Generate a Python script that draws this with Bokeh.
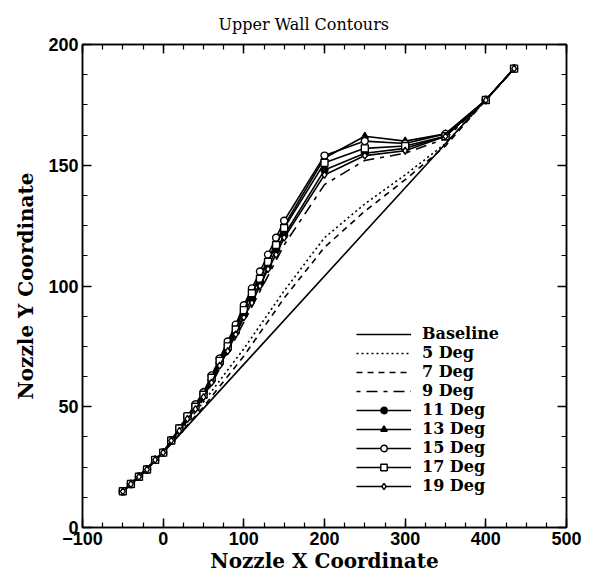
from bokeh.plotting import figure
from bokeh.models import (Legend, LegendItem, LinearAxis, Range1d,
                          SingleIntervalTicker, CustomJSTickFormatter)
from bokeh.embed import file_html
from bokeh.resources import INLINE

# ---------------- data ----------------
x_base = [-50, 0, 435]
y_base = [15, 31, 190]

x_plain = [-50, 0, 50, 100, 150, 200, 250, 300, 350, 400, 435]
y_5deg = [15, 31, 52, 74, 98, 120, 134, 146, 159, 177, 190]
y_7deg = [15, 31, 50, 71, 95, 116, 131, 144, 158, 177, 190]
y_9deg = [15, 31, 53, 85, 117, 142, 152, 155, 161, 177, 190]

x_mark = [-50, -40, -30, -20, -10, 0, 10, 20, 30, 40, 50, 60, 70, 80, 90,
          100, 110, 120, 130, 140, 150, 200, 250, 300, 350, 400, 435]
y_11deg = [15, 18, 21, 24, 28, 31, 36, 41, 46, 50, 55, 61, 68, 74, 81,
           88, 95, 101, 108, 115, 121, 148, 155, 157, 162, 177, 190]
y_13deg = [15, 18, 21, 24, 28, 31, 36, 41, 46, 51, 56, 62, 69, 76, 83,
           91, 98, 104, 111, 118, 125, 153, 162, 160, 163, 177, 190]
y_15deg = [15, 18, 21, 24, 28, 31, 36, 41, 46, 51, 56, 63, 70, 77, 84,
           92, 99, 106, 113, 120, 127, 154, 160, 159, 163, 177, 190]
y_17deg = [15, 18, 21, 24, 28, 31, 36, 41, 46, 50, 55, 62, 69, 75, 82,
           90, 97, 103, 110, 117, 124, 151, 157, 158, 162, 177, 190]
y_19deg = [15, 18, 21, 24, 28, 31, 36, 40, 45, 49, 54, 60, 67, 73, 80,
           87, 93, 100, 107, 113, 120, 146, 154, 156, 162, 177, 190]

labels = ["Baseline", "5 Deg", "7 Deg", "9 Deg", "11 Deg",
          "13 Deg", "15 Deg", "17 Deg", "19 Deg"]

x_ticks_interval = 100
y_ticks_interval = 50

# ---------------- figure ----------------
SERIF = "DejaVu Serif"
p = figure(frame_width=484, frame_height=483,
           min_border_left=82, min_border_right=27,
           min_border_top=44, min_border_bottom=40,
           x_range=Range1d(-100, 500), y_range=Range1d(0, 200),
           output_backend="svg", toolbar_location=None,
           title="Upper Wall Contours")
p.title.align = "left"
p.title.offset = 136
p.title.standoff = 21
p.title.text_font = SERIF
p.title.text_font_size = "16px"
p.title.text_font_style = "normal"
p.title.text_color = "black"
p.grid.visible = False
p.outline_line_color = "black"
p.outline_line_width = 1.5
p.background_fill_color = "white"
p.border_fill_color = "white"

def style_axis(ax, interval, show_labels, label_standoff=1):
    ax.ticker = SingleIntervalTicker(interval=interval, num_minor_ticks=4)
    ax.axis_line_color = "black"
    ax.axis_line_width = 1.5
    ax.major_tick_line_color = "black"
    ax.minor_tick_line_color = "black"
    ax.major_tick_line_width = 1.5
    ax.minor_tick_line_width = 1.2
    ax.major_tick_in = 9
    ax.major_tick_out = 0
    ax.minor_tick_in = 5
    ax.minor_tick_out = 0
    if show_labels:
        ax.major_label_text_font = "Liberation Sans"
        ax.major_label_text_font_style = "bold"
        ax.major_label_text_font_size = "18px"
        ax.major_label_text_color = "black"
        ax.major_label_standoff = 4
        ax.axis_label_text_font = SERIF
        ax.axis_label_text_font_size = "20px"
        ax.axis_label_text_font_style = "bold"
        ax.axis_label_text_color = "black"
        ax.axis_label_standoff = label_standoff
    else:
        ax.formatter = CustomJSTickFormatter(code="return ''")
        ax.major_label_text_font_size = "1px"
        ax.major_label_standoff = 0

style_axis(p.xaxis[0], x_ticks_interval, True, 1)
style_axis(p.yaxis[0], y_ticks_interval, True, 7)
p.xaxis[0].axis_label = "Nozzle X Coordinate"
p.yaxis[0].axis_label = "Nozzle Y Coordinate"

top_ax = LinearAxis()
style_axis(top_ax, x_ticks_interval, False)
p.add_layout(top_ax, "above")
right_ax = LinearAxis()
style_axis(right_ax, y_ticks_interval, False)
p.add_layout(right_ax, "right")

# ---------------- series ----------------
LW = 1.6
items = []
r = p.line(x_base, y_base, line_color="black", line_width=LW)
items.append(LegendItem(label=labels[0], renderers=[r]))
for lab, ys, dash in [(labels[1], y_5deg, "2 3"),
                      (labels[2], y_7deg, "6 5"),
                      (labels[3], y_9deg, "4 6 11 6")]:
    r = p.line(x_plain, ys, line_color="black", line_width=LW, line_dash=dash)
    items.append(LegendItem(label=lab, renderers=[r]))

marker_specs = [(labels[4], y_11deg, "circle", "black"),
                (labels[5], y_13deg, "triangle", "black"),
                (labels[6], y_15deg, "circle", "white"),
                (labels[7], y_17deg, "square", "white"),
                (labels[8], y_19deg, "diamond", "white")]
for lab, ys, mk, fill in marker_specs:
    rl = p.line(x_mark, ys, line_color="black", line_width=LW)
    rs = p.scatter(x_mark, ys, marker=mk, size=7, line_color="black",
                   line_width=1.4, fill_color=fill)
    items.append(LegendItem(label=lab, renderers=[rl, rs]))

legend = Legend(items=items, location=(274, 32))
legend.glyph_width = 55
legend.glyph_height = 16
legend.label_height = 16
legend.spacing = 0
legend.label_standoff = 11
legend.padding = 0
legend.margin = 0
legend.border_line_color = None
legend.background_fill_alpha = 0
legend.label_text_font = SERIF
legend.label_text_font_size = "16px"
legend.label_text_font_style = "bold"
legend.label_text_color = "black"
p.add_layout(legend, "center")

open("out.html", "w").write(file_html(p, INLINE))
